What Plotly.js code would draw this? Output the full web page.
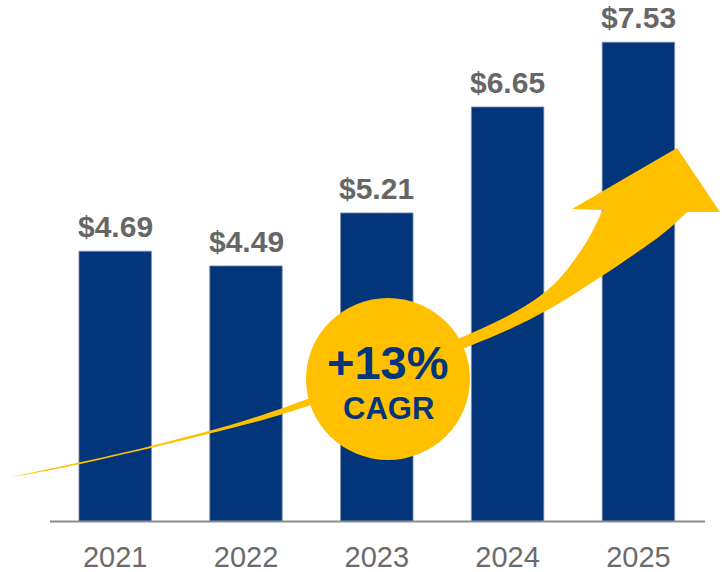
<!DOCTYPE html>
<html>
<head>
<meta charset="utf-8">
<script src="https://cdn.plot.ly/plotly-3.0.1.min.js"></script>
<style>html,body{margin:0;padding:0;background:#fff}#chart{width:722px;height:572px}</style>
</head>
<body>
<div id="chart"></div>
<script>
// ---- data ----
const years = ['2021', '2022', '2023', '2024', '2025'];
const values = [4.69, 4.49, 5.21, 6.65, 7.53];
const valueLabels = ['$4.69', '$4.49', '$5.21', '$6.65', '$7.53'];
const cagrText = '+13%';
const cagrSub = 'CAGR';

// ---- styling ----
const NAVY = '#03357A';
const GOLD = '#FFC000';
const GRAY = '#666666';
const W = 722, H = 572, B = 51, PH = H - B;

// pixel -> paper helpers (plot area spans full width, top 0 .. y=521)
const px = X => X / W;
const py = Y => (PH - Y) / PH;

// Arrow outline (decoration) in pixel coords
const upper = [[7,478],[151,446],[280,409],[460,338],[540,296],[580,252],[603,210]];
const lower = [[687,212],[660,236],[602,276],[540,314],[467,347],[308,406],[200,436],[80,464],[7,478]];
const head = [[572,209],[677,148],[720,212]];

function smooth(pts, start) {
  let s = (start ? 'M' : 'L') + px(pts[0][0]) + ',' + py(pts[0][1]);
  for (let i = 0; i < pts.length - 1; i++) {
    const p0 = pts[Math.max(i - 1, 0)], p1 = pts[i], p2 = pts[i + 1], p3 = pts[Math.min(i + 2, pts.length - 1)];
    const c1 = [p1[0] + (p2[0] - p0[0]) / 6, p1[1] + (p2[1] - p0[1]) / 6];
    const c2 = [p2[0] - (p3[0] - p1[0]) / 6, p2[1] - (p3[1] - p1[1]) / 6];
    s += ' C' + px(c1[0]) + ',' + py(c1[1]) + ' ' + px(c2[0]) + ',' + py(c2[1]) + ' ' + px(p2[0]) + ',' + py(p2[1]);
  }
  return s;
}
let arrowPath = smooth(upper, true);
head.forEach(p => { arrowPath += ' L' + px(p[0]) + ',' + py(p[1]); });
arrowPath += ' ' + smooth(lower, false) + ' Z';

const trace = {
  type: 'bar',
  x: years,
  y: values,
  marker: { color: NAVY, line: { color: '#7d8fb0', width: 0.8 } },
  hoverinfo: 'skip'
};

const annotations = years.map((yr, i) => ({
  x: i, y: values[i], xref: 'x', yref: 'y',
  text: '<b>' + valueLabels[i] + '</b>', showarrow: false,
  yanchor: 'bottom', xanchor: 'center', yshift: 6,
  font: { family: 'Liberation Sans, Arial, sans-serif', size: 30, color: GRAY }
}));
annotations.push({
  x: px(388), y: py(362), xref: 'paper', yref: 'paper',
  text: '<b>' + cagrText + '</b>', showarrow: false, yanchor: 'middle', xanchor: 'center',
  font: { family: 'Liberation Sans, Arial, sans-serif', size: 47, color: NAVY }
});
annotations.push({
  x: px(388), y: py(408), xref: 'paper', yref: 'paper',
  text: '<b>' + cagrSub + '</b>', showarrow: false, yanchor: 'middle', xanchor: 'center',
  font: { family: 'Liberation Sans, Arial, sans-serif', size: 31, color: NAVY }
});

const layout = {
  width: W, height: H,
  margin: { l: 0, r: 0, t: 0, b: B, pad: 0 },
  paper_bgcolor: '#ffffff', plot_bgcolor: '#ffffff',
  showlegend: false,
  bargap: 0.446,
  xaxis: {
    type: 'category', range: [-0.8807, 4.639],
    showline: false, showgrid: false, zeroline: false, ticks: '',
    tickfont: { family: 'Liberation Sans, Arial, sans-serif', size: 29, color: '#6b6b6b' },
    ticklabelstandoff: 16
  },
  yaxis: {
    range: [1.024, 8.103], visible: false, showgrid: false, zeroline: false, fixedrange: true
  },
  shapes: [
    { type: 'line', xref: 'paper', yref: 'paper', x0: px(50), x1: px(705), y0: py(521.5), y1: py(521.5),
      line: { color: '#8c8c8c', width: 2 }, layer: 'above' },
    { type: 'path', xref: 'paper', yref: 'paper', path: arrowPath, fillcolor: GOLD,
      line: { width: 0 }, layer: 'above' },
    { type: 'circle', xref: 'paper', yref: 'paper', x0: px(306), x1: px(470), y0: py(460), y1: py(298),
      fillcolor: GOLD, line: { width: 0 }, layer: 'above' }
  ],
  annotations: annotations
};

Plotly.newPlot('chart', [trace], layout, { staticPlot: true, displayModeBar: false });
</script>
</body>
</html>
